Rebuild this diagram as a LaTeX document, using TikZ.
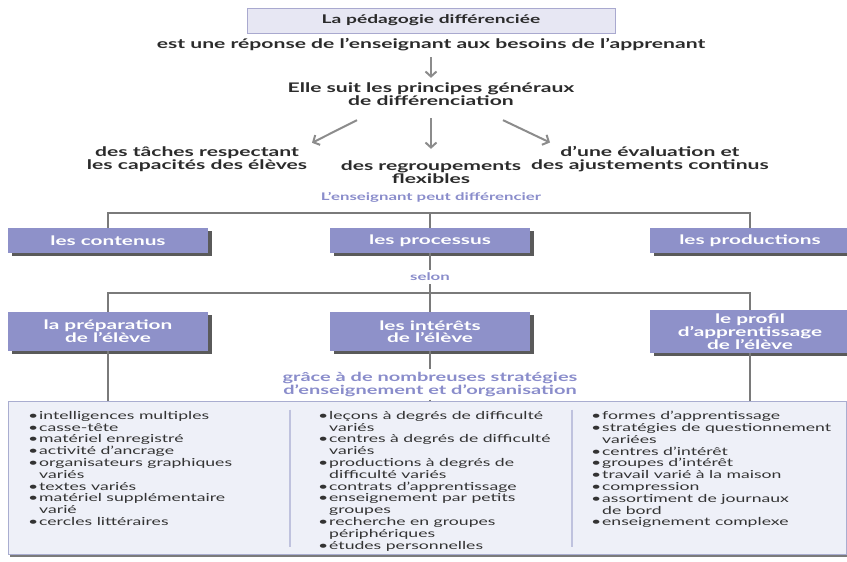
\documentclass[tikz,border=0pt]{standalone}
\usepackage{fontspec}
\setmainfont{Lato}[FakeStretch=1.6]
\usepackage{tikz}
\usepackage{xcolor}
\usetikzlibrary{positioning}
\usetikzlibrary{arrows.meta}
\usetikzlibrary{shadows}

\definecolor{boxblue}{HTML}{8E91C9}
\definecolor{titlefill}{HTML}{E7E7F3}
\definecolor{titleedge}{HTML}{A9A9CF}
\definecolor{lilactext}{HTML}{8A8DCB}
\definecolor{darktext}{HTML}{2B2B2B}
\definecolor{listtext}{HTML}{333333}
\definecolor{linegray}{HTML}{7A7A7A}
\definecolor{arrowgray}{HTML}{8C8C8C}
\definecolor{shadowgray}{HTML}{5A5A5A}
\definecolor{bigfill}{HTML}{EEF0F8}
\definecolor{bigedge}{HTML}{A9ADD0}
\definecolor{sepline}{HTML}{BFC2DE}

\newcommand{\lbul}{\makebox[11pt][l]{\textbullet}}
\newcommand{\lcont}{\hspace*{11pt}}

\begin{document}
\begin{tikzpicture}[x=1pt, y=1pt,
	titlebox/.style={rectangle, draw=titleedge, fill=titlefill, line width=1pt, minimum width=368pt, minimum height=25pt, font=\fontsize{12}{13}\selectfont\bfseries, text=darktext},
	plain/.style={align=center, inner sep=0pt, font=\fontsize{13.2}{13}\selectfont\bfseries, text=darktext},
	lilac/.style={align=center, inner sep=0pt, font=\fontsize{10.5}{12.5}\selectfont\bfseries, text=lilactext},
	bluebox/.style={rectangle, fill=boxblue, text=white, align=center, minimum width=200pt, font=\fontsize{13}{12}\selectfont\bfseries, drop shadow={shadow xshift=3.5pt, shadow yshift=-3pt, fill=shadowgray, opacity=1}},
	bigbox/.style={rectangle, draw=bigedge, fill=bigfill, line width=1pt, minimum width=838pt, minimum height=153pt, drop shadow={shadow xshift=2pt, shadow yshift=-3pt, fill=shadowgray!80, opacity=1}},
	listcol/.style={anchor=north west, align=left, inner sep=0pt, font=\fontsize{11}{11.8}\selectfont, text=listtext},
	link/.style={draw=linegray, line width=2.5pt},
	flow/.style={draw=arrowgray, line width=2pt, -{Straight Barb[length=5pt, width=11pt]}},
	sep/.style={draw=sepline, line width=2pt}]
	\useasboundingbox (0,0) rectangle (847,-562);

	\node[titlebox] (title) at (431,-20.5) {La pédagogie différenciée};
	\node[plain] (reponse) at (431,-45) {est une réponse de l’enseignant aux besoins de l’apprenant};
	\node[plain] (principes) at (431,-94.5) {Elle suit les principes généraux\\de différenciation};
	\node[plain] (taches) at (197,-159.5) {des tâches respectant\\les capacités des élèves};
	\node[plain] (regroup) at (431,-172.5) {des regroupements\\flexibles};
	\node[plain] (evaluation) at (650,-159.5) {d’une évaluation et\\des ajustements continus};
	\node[lilac] (peut) at (431,-197) {L’enseignant peut différencier};

	\draw[flow, shorten <=6pt, shorten >=5pt] (reponse) -- (principes);
	\draw[flow] ([xshift=-74pt, yshift=-14pt]principes.south) -- ([xshift=115pt, yshift=4pt]taches.north);
	\draw[flow, shorten <=12pt, shorten >=12pt] (principes) -- (regroup);
	\draw[flow] ([xshift=72pt, yshift=-14pt]principes.south) -- ([xshift=-100pt, yshift=4pt]evaluation.north);

	\node[bluebox, minimum height=25pt] (contenus) at (108,-240.5) {les contenus};
	\node[bluebox, minimum height=25pt] (processus) at (430,-240.5) {les processus};
	\node[bluebox, minimum height=25pt] (productions) at (750,-240.5) {les productions};
	\node[lilac] (selon) at (430,-277) {selon};

	\node[bluebox, minimum height=39pt] (preparation) at (108,-331.5) {la préparation\\de l’élève};
	\node[bluebox, minimum height=39pt] (interets) at (430,-331.5) {les intérêts\\de l’élève};
	\node[bluebox, minimum height=39pt] (profil) at (750,-331.5) {le profil\\d’apprentissage\\de l’élève};
	\node[lilac, font=\fontsize{12.5}{12.5}\selectfont\bfseries] (grace) at (430,-384.5) {grâce à de nombreuses stratégies\\d’enseignement et d’organisation};

	\draw[link] (contenus.north) -- ++(0,15) -| (productions.north);
	\draw[link] (processus.north) -- ++(0,15);
	\draw[link] (processus.south) -- ([yshift=3pt]selon.north);
	\draw[link] (preparation.north) -- ++(0,19) -| (profil.north);
	\draw[link] ([yshift=-3pt]selon.south) -- (interets.north);

	\node[bigbox] (strategies) at (427,-477.5) {};
	\draw[link] (preparation.south) -- (preparation.south |- strategies.north);
	\draw[link] (profil.south) -- (profil.south |- strategies.north);
	\draw[link] (interets.south) -- ([yshift=3pt]grace.north);
	\draw[link] ([yshift=-3pt]grace.south) -- (grace.south |- strategies.north);
	\draw[sep] ([xshift=282pt, yshift=-9pt]strategies.north west) -- ([xshift=282pt, yshift=8pt]strategies.south west);
	\draw[sep] ([xshift=564pt, yshift=-9pt]strategies.north west) -- ([xshift=564pt, yshift=8pt]strategies.south west);

	\node[listcol] (colprep) at (28,-411) {\lbul intelligences multiples\\ \lbul casse-tête\\ \lbul matériel enregistré\\ \lbul activité d’ancrage\\ \lbul organisateurs graphiques\\ \lcont variés\\ \lbul textes variés\\ \lbul matériel supplémentaire\\ \lcont varié\\ \lbul cercles littéraires};
	\node[listcol] (colint) at (318,-411) {\lbul leçons à degrés de difficulté\\ \lcont variés\\ \lbul centres à degrés de difficulté\\ \lcont variés\\ \lbul productions à degrés de\\ \lcont difficulté variés\\ \lbul contrats d’apprentissage\\ \lbul enseignement par petits\\ \lcont groupes\\ \lbul recherche en groupes\\ \lcont périphériques\\ \lbul études personnelles};
	\node[listcol] (colprof) at (591,-411) {\lbul formes d’apprentissage\\ \lbul stratégies de questionnement\\ \lcont variées\\ \lbul centres d’intérêt\\ \lbul groupes d’intérêt\\ \lbul travail varié à la maison\\ \lbul compression\\ \lbul assortiment de journaux\\ \lcont de bord\\ \lbul enseignement complexe};
\end{tikzpicture}
\end{document}
